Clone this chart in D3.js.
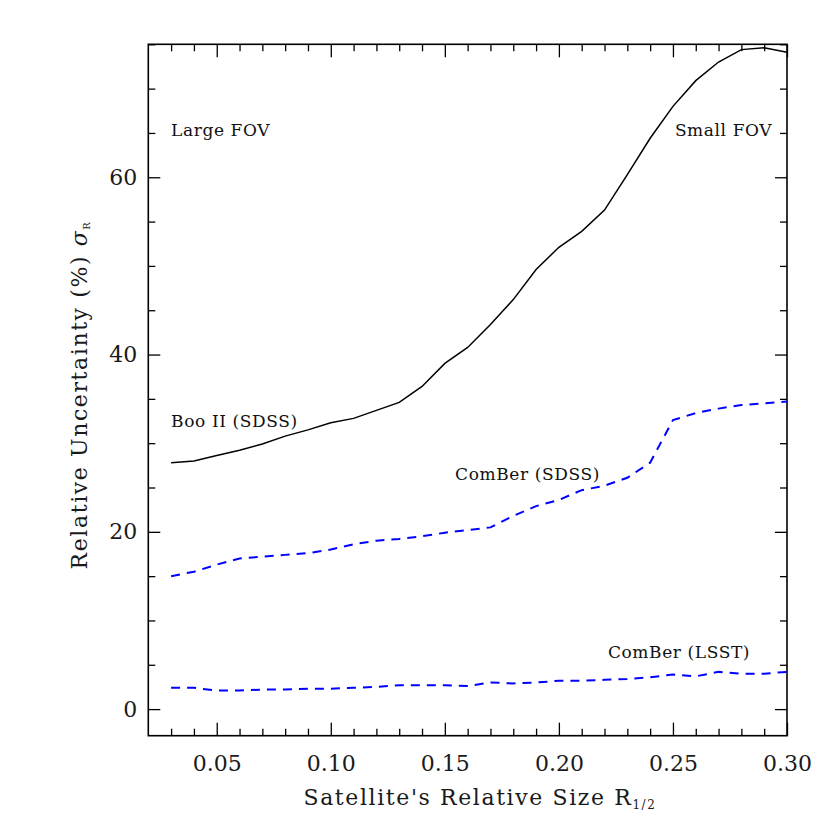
<!DOCTYPE html>
<html><head><meta charset="utf-8">
<script src="https://cdn.jsdelivr.net/npm/d3@7"></script>
<style>body{margin:0;background:#fff}svg{display:block}</style>
</head><body>
<script>
const sizes = [0.03,0.04,0.05,0.06,0.07,0.08,0.09,0.10,0.11,0.12,0.13,0.14,0.15,0.16,0.17,0.18,0.19,0.20,0.21,0.22,0.23,0.24,0.25,0.26,0.27,0.28,0.29,0.30];
const booSDSS = [27.8,28.0,28.6,29.2,29.9,30.8,31.5,32.3,32.8,33.7,34.6,36.4,39.0,40.8,43.4,46.2,49.6,52.1,53.9,56.3,60.3,64.4,68.0,70.9,73.0,74.4,74.6,74.1];
const comberSDSS = [15.0,15.5,16.3,17.0,17.2,17.4,17.6,18.0,18.6,19.0,19.2,19.5,19.9,20.2,20.5,21.8,22.9,23.6,24.7,25.2,26.1,27.8,32.6,33.4,33.9,34.3,34.5,34.7];
const comberLSST = [2.4,2.4,2.1,2.1,2.2,2.2,2.3,2.3,2.4,2.5,2.7,2.7,2.7,2.6,3.0,2.9,3.0,3.2,3.2,3.3,3.4,3.6,3.9,3.7,4.2,4.0,4.0,4.2];
const xTicks = [0.05,0.10,0.15,0.20,0.25,0.30];
const yTicks = [0,20,40,60];
const labels = [
  {t:"Large FOV", x:0.03, y:64.7, a:"start"},
  {t:"Small FOV", x:0.2935, y:64.7, a:"end"},
  {t:"Boo II (SDSS)", x:0.03, y:31.8, a:"start"},
  {t:"ComBer (SDSS)", x:0.1545, y:25.8, a:"start"},
  {t:"ComBer (LSST)", x:0.2215, y:5.8, a:"start"}
];

const FF = "DejaVu Serif";
const W=830,H=830, L=148.3, R=787, T=44.3, B=735.7;
const svg = d3.select("body").append("svg").attr("width",W).attr("height",H);
const x = d3.scaleLinear().domain([0.02,0.30]).range([L,R]);
const y = d3.scaleLinear().domain([-3,75]).range([B,T]);

const majX=13, minX=7, majY=12, minY=7;
const xMinor = d3.range(3,31).map(v=>v/100).filter(v=>!xTicks.some(t=>Math.abs(t-v)<1e-9));
const yMinor = d3.range(0,76,5).filter(v=>!yTicks.includes(v));

svg.append("g").attr("transform",`translate(0,${B})`).call(d3.axisBottom(x).tickValues(xTicks).tickSize(-majX).tickFormat(d3.format(".2f")).tickPadding(20));
svg.append("g").attr("transform",`translate(0,${B})`).call(d3.axisBottom(x).tickValues(xMinor).tickSize(-minX).tickFormat(""));
svg.append("g").attr("transform",`translate(0,${T})`).call(d3.axisTop(x).tickValues(xTicks).tickSize(-majX).tickFormat(""));
svg.append("g").attr("transform",`translate(0,${T})`).call(d3.axisTop(x).tickValues(xMinor).tickSize(-minX).tickFormat(""));
svg.append("g").attr("transform",`translate(${L},0)`).call(d3.axisLeft(y).tickValues(yTicks).tickSize(-majY).tickFormat(d3.format("d")).tickPadding(11));
svg.append("g").attr("transform",`translate(${L},0)`).call(d3.axisLeft(y).tickValues(yMinor).tickSize(-minY).tickFormat(""));
svg.append("g").attr("transform",`translate(${R},0)`).call(d3.axisRight(y).tickValues(yTicks).tickSize(-majY).tickFormat(""));
svg.append("g").attr("transform",`translate(${R},0)`).call(d3.axisRight(y).tickValues(yMinor).tickSize(-minY).tickFormat(""));
svg.selectAll(".domain").remove();
svg.selectAll(".tick line").attr("stroke","#000").attr("stroke-width",1.3);
svg.selectAll(".tick text").attr("font-family",FF).attr("font-size",22).attr("fill","#1a1a1a");
svg.append("rect").attr("x",L).attr("y",T).attr("width",R-L).attr("height",B-T)
  .attr("fill","none").attr("stroke","#000").attr("stroke-width",1.6);

const line = d3.line().x((d,i)=>x(sizes[i])).y(d=>y(d));
svg.append("path").datum(booSDSS).attr("d",line).attr("fill","none").attr("stroke","#000").attr("stroke-width",1.5);
svg.append("path").datum(comberSDSS).attr("d",line).attr("fill","none").attr("stroke","#0000ff").attr("stroke-width",2).attr("stroke-dasharray","9,7");
svg.append("path").datum(comberLSST).attr("d",line).attr("fill","none").attr("stroke","#0000ff").attr("stroke-width",2).attr("stroke-dasharray","9,7");

svg.selectAll(".lbl").data(labels).enter().append("text").attr("class","lbl")
  .attr("x",d=>x(d.x)).attr("y",d=>y(d.y)).attr("text-anchor",d=>d.a)
  .attr("font-family",FF).attr("font-size",17).attr("letter-spacing",0.6).attr("fill","#111").text(d=>d.t);

// x title
const xt = svg.append("text").attr("x",480).attr("y",805).attr("text-anchor","middle")
  .attr("font-family",FF).attr("font-size",22).attr("letter-spacing",1.6).attr("fill","#1a1a1a");
xt.append("tspan").text("Satellite's Relative Size R");
xt.append("tspan").attr("font-size",12).attr("dy",4).text("1/2");
// y title
const yt = svg.append("text").attr("transform",`translate(87,395) rotate(-90)`).attr("text-anchor","middle")
  .attr("font-family",FF).attr("font-size",22).attr("letter-spacing",1.6).attr("fill","#1a1a1a");
yt.append("tspan").text("Relative Uncertainty (%) ");
yt.append("tspan").attr("font-style","italic").text("σ");
yt.append("tspan").attr("font-size",10).attr("dy",3).text("R");
</script>
</body></html>
